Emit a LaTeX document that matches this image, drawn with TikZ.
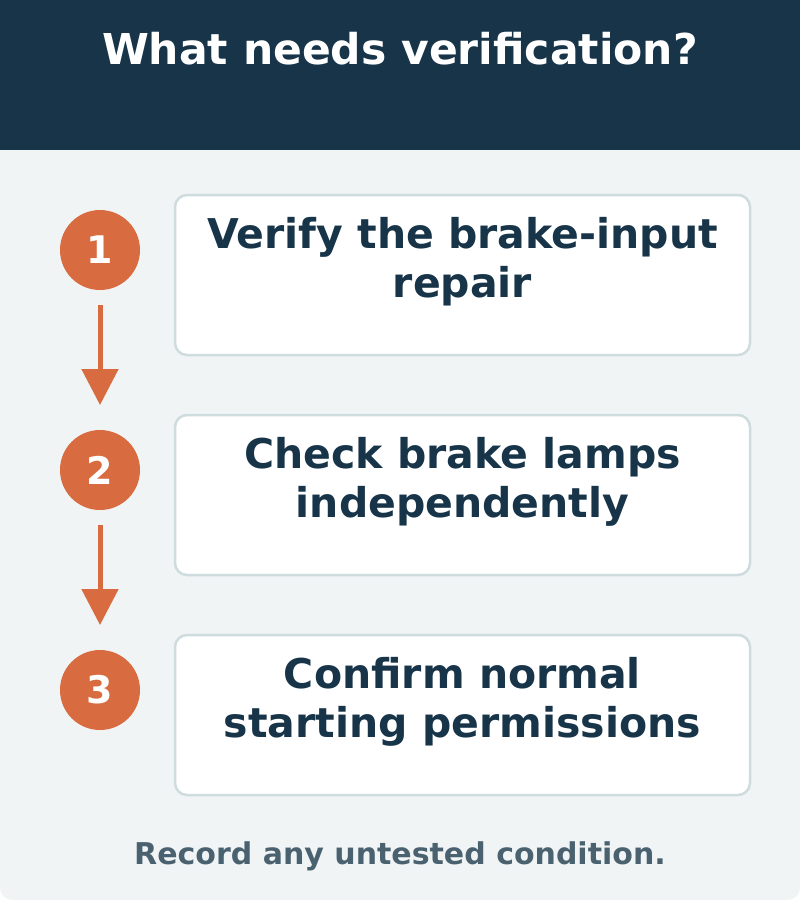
\documentclass[tikz,border=0pt]{standalone}
\usepackage{fontspec}
\setmainfont{DejaVu Sans}
\usetikzlibrary{arrows.meta}
\definecolor{navy}{HTML}{173449}
\definecolor{bg}{HTML}{F0F4F5}
\definecolor{orng}{HTML}{D86B40}
\definecolor{bord}{HTML}{CFDCDE}
\definecolor{foot}{HTML}{4A6270}
\begin{document}
\begin{tikzpicture}[x=1pt,y=-1pt,
  stepc/.style={circle,fill=orng,minimum size=80pt,inner sep=0pt,text=white,font=\bfseries\fontsize{38}{44}\selectfont},
  box/.style={draw=bord,line width=2.5pt,fill=white,rounded corners=12pt,minimum width=575pt,minimum height=160pt},
  btext/.style={text=navy,anchor=base,inner sep=0pt,font=\bfseries\fontsize{41}{49}\selectfont},
  arr/.style={orng,line width=5pt,-{Triangle[length=36pt,width=36pt]}}]
\useasboundingbox (0,0) rectangle (800,900);
\fill[bg,rounded corners=12pt] (0,100) rectangle (800,900);
\fill[navy] (0,0) rectangle (800,150);
\node[text=white,anchor=base,inner sep=0pt,font=\bfseries\fontsize{42.5}{48}\selectfont] (title) at (400,64) {What needs verification?};
\foreach \i/\y/\ta/\tb in {1/248/{Verify the brake-input}/{repair},2/468/{Check brake lamps}/{independently},3/688/{Confirm normal}/{starting permissions}}{
  \node[stepc] (c\i) at (100,\y+2) {\i};
  \node[box] (b\i) at (462.5,\y+27) {};
  \node[btext] (ta\i) at (462.5,\y) {\ta};
  \node[btext] (tb\i) at (462.5,\y+49) {\tb};
}
\coordinate (e1) at (100,405);
\coordinate (e2) at (100,625);
\draw[arr] ([yshift=-15pt]c1.south) -- (e1);
\draw[arr] ([yshift=-15pt]c2.south) -- (e2);
\node[text=foot,anchor=base,inner sep=0pt,font=\bfseries\fontsize{30}{34}\selectfont] (ft) at (400,864) {Record any untested condition.};
\end{tikzpicture}
\end{document}
